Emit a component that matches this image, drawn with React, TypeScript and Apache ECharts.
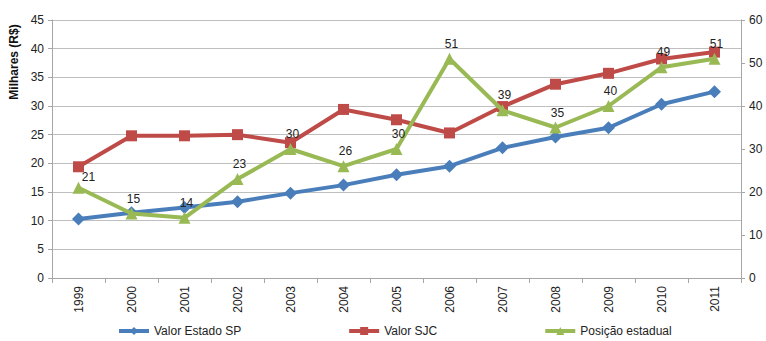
import React, { useEffect, useRef } from "react";
import * as echarts from "echarts";

const years = ["1999", "2000", "2001", "2002", "2003", "2004", "2005", "2006", "2007", "2008", "2009", "2010", "2011"];
const valorEstadoSP = [10.3, 11.4, 12.3, 13.3, 14.8, 16.2, 18.0, 19.5, 22.7, 24.6, 26.2, 30.3, 32.5];
const valorSJC = [19.4, 24.8, 24.8, 25.0, 23.6, 29.4, 27.6, 25.3, 29.9, 33.8, 35.7, 38.2, 39.4];
const posicaoEstadual = [21, 15, 14, 23, 30, 26, 30, 51, 39, 35, 40, 49, 51];

const FONT = "Liberation Sans, Arial, sans-serif";

export default function App() {
  const ref = useRef<HTMLDivElement>(null);
  useEffect(() => {
    if (!ref.current) return;
    const chart = echarts.init(ref.current, undefined, { renderer: "svg" });
    const greenData = posicaoEstadual.map((v, i) =>
      i === 0 ? { value: v, label: { offset: [10, 4] } } : v
    );
    chart.setOption({
      animation: false,
      backgroundColor: "#ffffff",
      textStyle: { fontFamily: FONT },
      grid: { left: 52, right: 25, top: 20, bottom: 63, containLabel: false },
      legend: {
        bottom: -1,
        left: 112,
        itemGap: 106,
        itemWidth: 30,
        itemHeight: 10,
        lineStyle: { width: 4 },
        textStyle: { fontSize: 12, color: "#222", fontFamily: FONT },
        data: ["Valor Estado SP", "Valor SJC", "Posição estadual"],
      },
      graphic: [
        {
          type: "text",
          x: 14,
          y: 62,
          rotation: Math.PI / 2,
          style: {
            text: "Milhares (R$)",
            fontSize: 12,
            fontWeight: "bold",
            fill: "#111",
            fontFamily: FONT,
            align: "center",
            verticalAlign: "middle",
          },
        },
      ],
      xAxis: {
        type: "category",
        data: years,
        boundaryGap: true,
        axisLine: { lineStyle: { color: "#a6a6a6" } },
        axisTick: { show: true, alignWithLabel: false, length: 5, lineStyle: { color: "#a6a6a6" } },
        axisLabel: { rotate: 90, fontSize: 12, color: "#222", margin: 8, fontFamily: FONT },
      },
      yAxis: [
        {
          type: "value",
          min: 0,
          max: 45,
          interval: 5,
          axisLine: { show: true, lineStyle: { color: "#a6a6a6" } },
          axisTick: { show: true, length: 4, lineStyle: { color: "#a6a6a6" } },
          axisLabel: { fontSize: 12, color: "#222", margin: 8, fontFamily: FONT },
          splitLine: { show: true, lineStyle: { color: "#bfbfbf", width: 1 } },
        },
        {
          type: "value",
          min: 0,
          max: 60,
          interval: 10,
          position: "right",
          axisLine: { show: true, lineStyle: { color: "#a6a6a6" } },
          axisTick: { show: true, length: 4, lineStyle: { color: "#a6a6a6" } },
          axisLabel: { fontSize: 12, color: "#222", margin: 8, fontFamily: FONT },
          splitLine: { show: false },
        },
      ],
      series: [
        {
          name: "Valor Estado SP",
          type: "line",
          yAxisIndex: 0,
          data: valorEstadoSP,
          symbol: "diamond",
          symbolSize: 13,
          lineStyle: { color: "#4A7EBB", width: 4 },
          itemStyle: { color: "#4A7EBB" },
          z: 2,
        },
        {
          name: "Valor SJC",
          type: "line",
          yAxisIndex: 0,
          data: valorSJC,
          symbol: "rect",
          symbolSize: 11,
          lineStyle: { color: "#BE4B48", width: 4 },
          itemStyle: { color: "#BE4B48" },
          z: 3,
        },
        {
          name: "Posição estadual",
          type: "line",
          yAxisIndex: 1,
          data: greenData,
          symbol: "triangle",
          symbolSize: 12,
          lineStyle: { color: "#98B954", width: 4 },
          itemStyle: { color: "#98B954" },
          label: {
            show: true,
            position: "top",
            distance: 3,
            offset: [2, 0],
            fontSize: 12,
            color: "#222",
            fontFamily: FONT,
          },
          z: 4,
        },
      ],
    });
    return () => chart.dispose();
  }, []);
  return (
    <div
      ref={ref}
      style={{ position: "fixed", left: 0, top: 0, width: 766, height: 341, background: "#fff" }}
    />
  );
}
